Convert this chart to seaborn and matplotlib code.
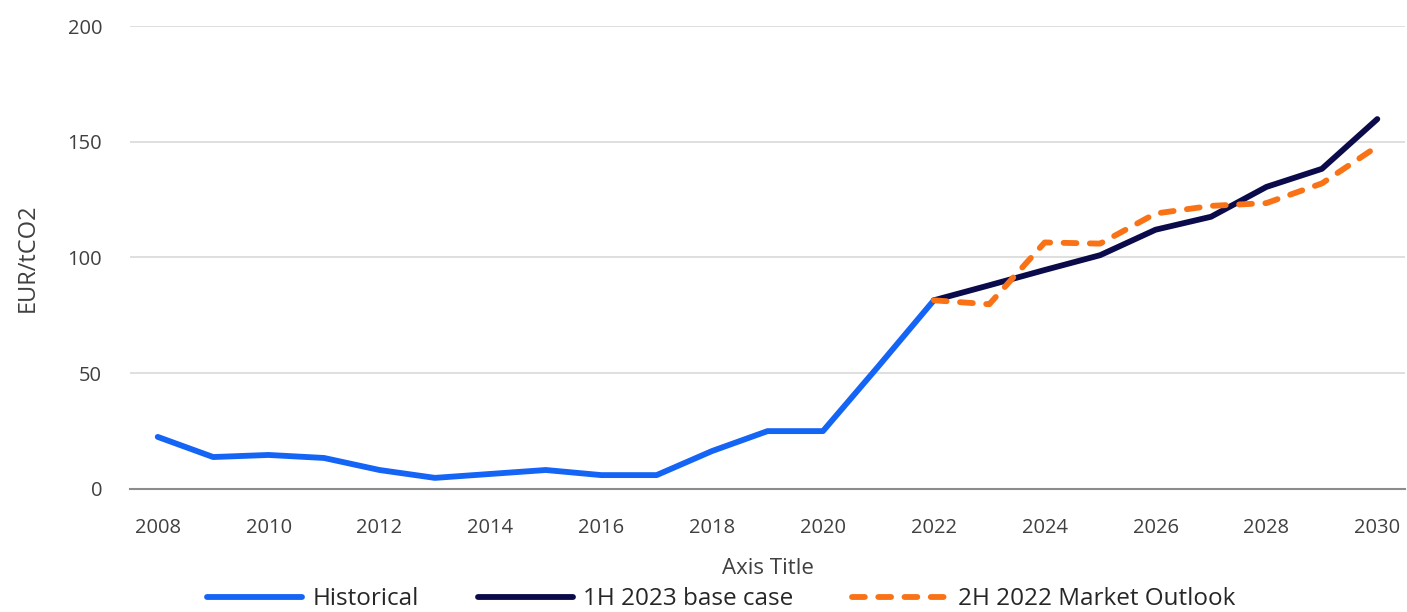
import matplotlib
matplotlib.use("Agg")
import matplotlib.pyplot as plt
import seaborn as sns
import pandas as pd

# EU carbon price, EUR per tonne CO2
hist_years = list(range(2008, 2023))
hist_values = [22.5, 13.8, 14.7, 13.4, 8.2, 4.8, 6.5, 8.2, 6.0, 6.0, 16.4, 25.0, 25.0, 53.0, 81.5]

fc_years = list(range(2022, 2031))
base_1h2023 = [81.5, 88.0, 94.6, 101.0, 112.0, 117.6, 130.5, 138.3, 159.8]
outlook_2h2022 = [81.5, 79.8, 106.5, 106.0, 119.0, 122.3, 123.5, 132.0, 148.0]

series_names = ["Historical", "1H 2023 base case", "2H 2022 Market Outlook"]
x_ticks = list(range(2008, 2031, 2))
y_ticks = [0, 50, 100, 150, 200]

sns.set_theme(style="white")
plt.rcParams["font.family"] = ["Open Sans", "DejaVu Sans"]

fig = plt.figure(figsize=(14.07, 6.12), dpi=100)
ax = fig.add_axes([0.0924, 0.201, 0.9062, 0.7565])

hist_df = pd.DataFrame({"year": hist_years, "value": hist_values})
base_df = pd.DataFrame({"year": fc_years, "value": base_1h2023})
out_df = pd.DataFrame({"year": fc_years, "value": outlook_2h2022})

lw = 4.2
sns.lineplot(data=hist_df, x="year", y="value", ax=ax, color="#1464F6",
             linewidth=lw, label=series_names[0], solid_capstyle="round")
sns.lineplot(data=base_df, x="year", y="value", ax=ax, color="#0B0B4B",
             linewidth=lw, label=series_names[1], solid_capstyle="round")
sns.lineplot(data=out_df, x="year", y="value", ax=ax, color="#F97316",
             linewidth=lw, label=series_names[2], dashes=(2.2, 2.3),
             dash_capstyle="round")

ax.set_xlim(2007.5, 2030.5)
ax.set_ylim(0, 200)
ax.set_xticks(x_ticks)
ax.set_yticks(y_ticks)
ax.tick_params(axis="both", length=0, labelsize=14.5, labelcolor="#404040")
ax.tick_params(axis="x", pad=21)
ax.tick_params(axis="y", pad=20)
ax.yaxis.grid(True, color="#D9D9D9", linewidth=1.2)
ax.set_axisbelow(True)
for side in ("top", "right", "left"):
    ax.spines[side].set_visible(False)
ax.spines["bottom"].set_color("#8C8C8C")
ax.spines["bottom"].set_linewidth(1.5)

ax.set_xlabel("Axis Title", fontsize=16, color="#404040", labelpad=14)
ax.set_ylabel("EUR/tCO2", fontsize=17, color="#404040", labelpad=20)

fig.legend(*ax.get_legend_handles_labels(), loc="center",
           bbox_to_anchor=(0.5126, 0.021), ncol=3, frameon=False,
           fontsize=17.5, handlelength=3.9, columnspacing=2.4,
           handletextpad=0.45, labelcolor="#262626")
ax.get_legend().remove()

fig.savefig("out.png", dpi=100)
